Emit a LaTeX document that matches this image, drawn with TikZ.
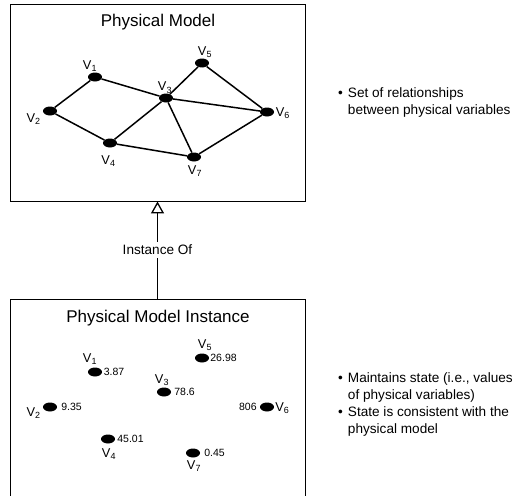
\documentclass[tikz,border=0pt]{standalone}
\usepackage{fontspec}
\setmainfont{Liberation Sans}
\usetikzlibrary{shapes.geometric, positioning, arrows.meta}
\tikzset{
  modelbox/.style={rectangle, draw=black, line width=0.9pt, minimum width=295pt, inner sep=0pt},
  boxtitle/.style={font=\fontsize{17}{20}\selectfont, inner sep=0pt, anchor=base},
  vdot/.style={ellipse, fill=black, inner sep=0pt, minimum width=14pt, minimum height=9pt},
  vname/.style={font=\fontsize{12.8}{14}\selectfont, inner sep=0pt},
  vvalue/.style={font=\fontsize{10.5}{12}\selectfont, inner sep=0pt},
  relation/.style={line width=1.5pt},
  notes/.style={font=\fontsize{13.6}{17}\selectfont, inner sep=0pt, anchor=north west, align=left},
  instarrow/.style={line width=1.3pt, -{Triangle[open, length=12pt, width=13pt, fill=white]}},
  instlabel/.style={fill=white, font=\fontsize{13.6}{16}\selectfont, inner sep=3pt}
}

\begin{document}
\begin{tikzpicture}[x=1pt, y=-1pt]
        \useasboundingbox (0,0) rectangle (518,495);
        \clip (0,0) rectangle (518,495);

        % Physical model
        \node (pm) [modelbox, minimum height=197pt] at (157.5,102.5) {};
        \node (pmtitle) [boxtitle] at (158,27) {Physical Model};
        \node (v1) [vdot] at (95,77) {};
        \node (v2) [vdot] at (50,111) {};
        \node (v3) [vdot] at (166,98) {};
        \node (v4) [vdot] at (110,143) {};
        \node (v5) [vdot] at (202,63) {};
        \node (v6) [vdot] at (267,112) {};
        \node (v7) [vdot] at (194,157) {};
        \node (n1) [vname, above=0.5pt of v1, xshift=-5pt] {V\textsubscript{1}};
        \node (n2) [vname, left=2pt of v2, yshift=-8pt] {V\textsubscript{2}};
        \node (n3) [vname, above=0pt of v3, xshift=-1pt] {V\textsubscript{3}};
        \node (n4) [vname, below=8pt of v4, xshift=-1.5pt] {V\textsubscript{4}};
        \node (n5) [vname, above=0.5pt of v5, xshift=3pt] {V\textsubscript{5}};
        \node (n6) [vname, right=1.5pt of v6, yshift=-1.5pt] {V\textsubscript{6}};
        \node (n7) [vname, below=4pt of v7, xshift=1pt] {V\textsubscript{7}};
        \draw [relation] (v1) -- (v2);
        \draw [relation] (v1) -- (v3);
        \draw [relation] (v2) -- (v4);
        \draw [relation] (v3) -- (v4);
        \draw [relation] (v3) -- (v5);
        \draw [relation] (v3) -- (v6);
        \draw [relation] (v3) -- (v7);
        \draw [relation] (v4) -- (v7);
        \draw [relation] (v5) -- (v6);
        \draw [relation] (v6) -- (v7);
        \node (pmnote) [notes] at (338,85.6) {\begin{tabular}{@{}l@{\hspace{5pt}}l@{}}
            \textbullet & Set of relationships\\
                        & between physical variables
          \end{tabular}};

        % Physical model instance
        \node (pmi) [modelbox, minimum height=250pt] at (157.5,424) {};
        \node (pmititle) [boxtitle] at (158,322) {Physical Model Instance};
        \node (w1) [vdot] at (95,372) {};
        \node (w2) [vdot] at (50,407) {};
        \node (w3) [vdot] at (164,392) {};
        \node (w4) [vdot] at (108,439) {};
        \node (w5) [vdot] at (202,358) {};
        \node (w6) [vdot] at (267,407) {};
        \node (w7) [vdot] at (193,453) {};
        \node (m1) [vname, above=2.5pt of w1, xshift=-5pt] {V\textsubscript{1}};
        \node (m2) [vname, left=2pt of w2, yshift=-6pt] {V\textsubscript{2}};
        \node (m3) [vname, above=1.5pt of w3, xshift=-2pt] {V\textsubscript{3}};
        \node (m4) [vname, below=5pt of w4, xshift=1pt] {V\textsubscript{4}};
        \node (m5) [vname, above=2.5pt of w5, xshift=3pt] {V\textsubscript{5}};
        \node (m6) [vname, right=1pt of w6, yshift=-1.5pt] {V\textsubscript{6}};
        \node (m7) [vname, below=2.5pt of w7, xshift=1pt] {V\textsubscript{7}};
        \node (val1) [vvalue, right=1.5pt of w1] {3.87};
        \node (val2) [vvalue, right=4pt of w2] {9.35};
        \node (val3) [vvalue, right=3pt of w3] {78.6};
        \node (val4) [vvalue, right=2pt of w4] {45.01};
        \node (val5) [vvalue, right=1pt of w5] {26.98};
        \node (val6) [vvalue, left=3pt of w6] {806};
        \node (val7) [vvalue, right=4pt of w7] {0.45};
        \node (pminote) [notes] at (338,370) {\begin{tabular}{@{}l@{\hspace{5pt}}l@{}}
            \textbullet & Maintains state (i.e., values\\
                        & of physical variables)\\
            \textbullet & State is consistent with the\\
                        & physical model
          \end{tabular}};

        % Instance-of relation
        \draw [instarrow] (pmi.north) -- node (instof) [instlabel] {Instance Of} (pm.south);

    \end{tikzpicture}
\end{document}
